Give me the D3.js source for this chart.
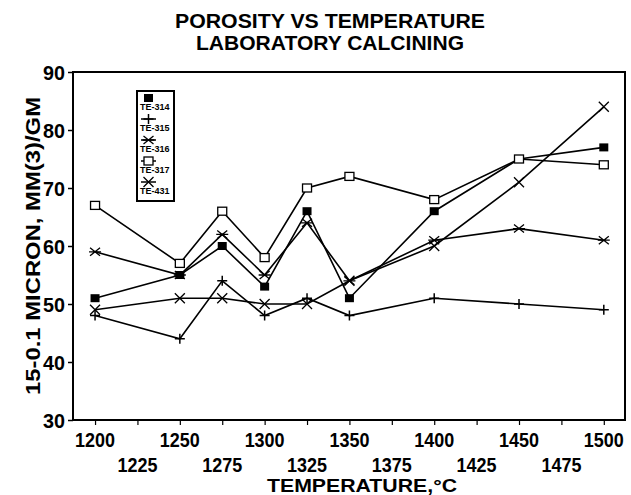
<!doctype html>
<html>
<head>
<meta charset="utf-8">
<title>Porosity vs Temperature</title>
<script src="https://cdn.jsdelivr.net/npm/d3@7"></script>
<style>
  body { margin: 0; background: #fff; }
  text { font-family: "Liberation Sans", Arial, sans-serif; font-weight: bold; fill: #000; }
</style>
</head>
<body>
<svg width="631" height="495"></svg>
<script>
// data
var temps = [1200, 1250, 1275, 1300, 1325, 1350, 1400, 1450, 1500];
var te314 = [51, 55, 60, 53, 66, 51, 66, 75, 77];
var te315 = [48, 44, 54, 48, 51, 48, 51, 50, 49];
var te316 = [59, 55, 62, 55, 64, 54, 61, 63, 61];
var te317 = [67, 57, 66, 58, 70, 72, 68, 75, 74];
var te431 = [49, 51, 51, 50, 50, 54, 60, 71, 84];
var seriesNames = ["TE-314", "TE-315", "TE-316", "TE-317", "TE-431"];
var markerTypes = ["fsquare", "plus", "star", "osquare", "cross"];
var xTicks = d3.range(1200, 1501, 25);
var yTicks = [30, 40, 50, 60, 70, 80, 90];

var svg = d3.select("svg");
var plotL = 73, plotR = 625, plotT = 72, plotB = 420;

var x = d3.scaleLinear().domain([1187, 1512.5]).range([plotL, plotR]);
var y = d3.scaleLinear().domain([30, 90]).range([plotB, plotT]);

// 标题
svg.append("text").attr("x", 330).attr("y", 28).attr("text-anchor", "middle")
   .attr("textLength", 310).attr("lengthAdjust", "spacingAndGlyphs")
   .style("font-size", "21px").text("POROSITY VS TEMPERATURE");
svg.append("text").attr("x", 330).attr("y", 50).attr("text-anchor", "middle")
   .attr("textLength", 268).attr("lengthAdjust", "spacingAndGlyphs")
   .style("font-size", "21px").text("LABORATORY CALCINING");

// y axis
var yAxis = d3.axisLeft(y).tickValues(yTicks).tickSize(5).tickPadding(3);
var gy = svg.append("g").attr("transform", "translate(" + plotL + ",0)").call(yAxis);
gy.select(".domain").remove();
gy.selectAll("line").attr("stroke-width", 1.5);
gy.selectAll("text").style("font-size", "20px").attr("dy", "0.36em")
  .attr("textLength", 22).attr("lengthAdjust", "spacingAndGlyphs");

// x axis
var xAxis = d3.axisBottom(x).tickValues(xTicks).tickSize(5).tickFormat("");
var gx = svg.append("g").attr("transform", "translate(0," + plotB + ")").call(xAxis);
gx.select(".domain").remove();
gx.selectAll("line").attr("stroke-width", 1.2);
svg.append("g").selectAll("text").data(xTicks).enter().append("text")
   .attr("x", function (d) { return x(d); })
   .attr("y", function (d, i) { return i % 2 == 0 ? 447 : 472; })
   .attr("text-anchor", "middle")
   .attr("textLength", 40).attr("lengthAdjust", "spacingAndGlyphs")
   .style("font-size", "20px")
   .text(function (d) { return d; });

// frame
svg.append("rect").attr("x", plotL).attr("y", plotT)
   .attr("width", plotR - plotL).attr("height", plotB - plotT)
   .attr("fill", "none").attr("stroke", "#000").attr("stroke-width", 2);

// axis titles
svg.append("text").attr("x", 362).attr("y", 492).attr("text-anchor", "middle")
   .attr("textLength", 190).attr("lengthAdjust", "spacingAndGlyphs")
   .style("font-size", "19px").text("TEMPERATURE,\u00B0C");
svg.append("text").attr("transform", "translate(40,246) rotate(-90)")
   .attr("text-anchor", "middle").style("font-size", "20px")
   .attr("textLength", 298).attr("lengthAdjust", "spacingAndGlyphs")
   .text("15-0.1 MICRON, MM(3)/GM");

// marker drawing
function drawMarker(g, type, cx, cy) {
    if (type == "fsquare") {
        g.append("rect").attr("x", cx - 4.5).attr("y", cy - 4).attr("width", 9).attr("height", 8)
         .attr("fill", "#000");
    } else if (type == "osquare") {
        g.append("rect").attr("x", cx - 4.5).attr("y", cy - 4).attr("width", 9).attr("height", 8)
         .attr("fill", "#fff").attr("stroke", "#000").attr("stroke-width", 1.3);
    } else if (type == "plus") {
        g.append("path").attr("d", "M" + (cx - 5) + "," + cy + "H" + (cx + 5) + "M" + cx + "," + (cy - 5) + "V" + (cy + 5))
         .attr("stroke", "#000").attr("stroke-width", 1.5).attr("fill", "none");
    } else if (type == "cross") {
        g.append("path").attr("d", "M" + (cx - 5) + "," + (cy - 5) + "L" + (cx + 5) + "," + (cy + 5) +
                               "M" + (cx - 5) + "," + (cy + 5) + "L" + (cx + 5) + "," + (cy - 5))
         .attr("stroke", "#000").attr("stroke-width", 1.3).attr("fill", "none");
    } else if (type == "star") {
        g.append("path").attr("d", "M" + (cx - 5) + "," + (cy - 4) + "L" + (cx + 5) + "," + (cy + 4) +
                               "M" + (cx - 5) + "," + (cy + 4) + "L" + (cx + 5) + "," + (cy - 4) +
                               "M" + (cx - 6) + "," + cy + "H" + (cx + 6))
         .attr("stroke", "#000").attr("stroke-width", 1.3).attr("fill", "none");
    }
}

var allSeries = [te314, te315, te316, te317, te431];
var line = d3.line()
    .x(function (d, i) { return x(temps[i]); })
    .y(function (d) { return y(d); });

allSeries.forEach(function (vals, k) {
    var g = svg.append("g");
    g.append("path").datum(vals).attr("d", line)
     .attr("fill", "none").attr("stroke", "#000").attr("stroke-width", 1.6);
    vals.forEach(function (v, i) {
        drawMarker(g, markerTypes[k], x(temps[i]), y(v));
    });
});

// 图例
var lg = svg.append("g");
lg.append("rect").attr("x", 137).attr("y", 91).attr("width", 37).attr("height", 110)
  .attr("fill", "#fff").attr("stroke", "#000").attr("stroke-width", 2);
seriesNames.forEach(function (name, k) {
    var sy = 98 + k * 21;
    if (k > 0) {
        lg.append("line").attr("x1", 141).attr("x2", 156).attr("y1", sy).attr("y2", sy)
          .attr("stroke", "#000").attr("stroke-width", 1.5);
    }
    drawMarker(lg, markerTypes[k], 148.5, sy);
    lg.append("text").attr("x", 140).attr("y", sy + 12)
      .style("font-size", "9px").text(name);
});
</script>
</body>
</html>
